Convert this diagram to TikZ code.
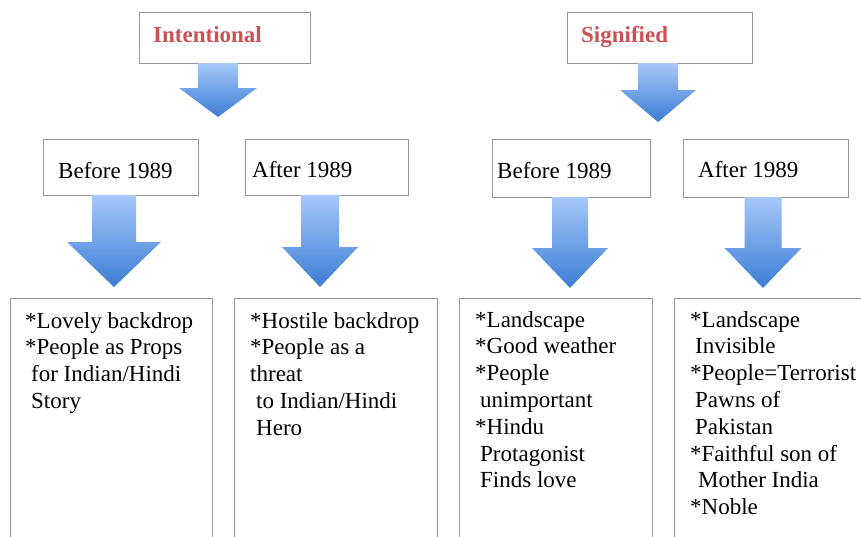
\documentclass[tikz,border=0pt]{standalone}
\usepackage{fontspec}
\setmainfont{Liberation Serif}
\usetikzlibrary{calc}
\definecolor{boxline}{RGB}{150,150,150}
\definecolor{titlered}{RGB}{205,80,85}
\definecolor{arrtop}{RGB}{165,200,250}
\definecolor{arrbot}{RGB}{60,125,212}
\tikzset{
  box/.style={draw=boxline, line width=0.9pt, fill=white},
  title/.style={anchor=base west, inner sep=0pt, text=titlered, font=\fontsize{23}{27}\selectfont\bfseries},
  label/.style={anchor=base west, inner sep=0pt, font=\fontsize{23}{27}\selectfont},
  body/.style={anchor=base west, inner sep=0pt, align=left, font=\fontsize{23}{26.8}\selectfont}
}
\newcommand{\barrow}[6]{%
  \shade[top color=arrtop, bottom color=arrbot]
    ({#1-#5},#2) -- ({#1+#5},#2) -- ({#1+#5},#3) -- ({#1+#6},#3) -- (#1,#4)
    -- ({#1-#6},#3) -- ({#1-#5},#3) -- cycle;}
\begin{document}
\begin{tikzpicture}[x=1pt,y=-1pt]
\useasboundingbox (0,0) rectangle (861,536);
\clip (0,0) rectangle (861,536);
% top boxes
\draw[box] (139,12) rectangle (310,63);
\node[title] (int) at (153,42) {Intentional};
\draw[box] (567,12) rectangle (752,63);
\node[title] (sig) at (581,42) {Signified};
% arrows from top boxes
\barrow{218}{63}{88}{117}{20}{39}
\barrow{658}{63}{90}{122}{20}{38}
% middle boxes
\draw[box] (43,139) rectangle (198,195);
\node[label] (b1) at (58,178) {Before 1989};
\draw[box] (245,139) rectangle (408,195);
\node[label] (a1) at (252,177) {After 1989};
\draw[box] (492,139) rectangle (650,197);
\node[label] (b2) at (497,178) {Before 1989};
\draw[box] (683,139) rectangle (848,197);
\node[label] (a2) at (698,177) {After 1989};
% arrows from middle boxes
\barrow{114}{195}{242}{287}{22}{47}
\barrow{320}{195}{247}{287}{19}{38}
\barrow{570}{197}{248}{288}{18}{38}
\barrow{763}{197}{248}{288}{18.5}{38.5}
% bottom boxes (base anchor = baseline of last line)
\draw[box] (10,298) rectangle (212,560);
\node[body] (t1) at (25,408.4) {*Lovely backdrop\\*People as Props\\\hspace*{6pt}for Indian/Hindi\\\hspace*{6pt}Story};
\draw[box] (234,298) rectangle (437,560);
\node[body] (t2) at (250,435.2) {*Hostile backdrop\\*People as a\\threat\\\hspace*{6pt}to Indian/Hindi\\\hspace*{6pt}Hero};
\draw[box] (459,298) rectangle (652,560);
\node[body] (t3) at (475,487.8) {*Landscape\\*Good weather\\*People\\\hspace*{5pt}unimportant\\*Hindu\\\hspace*{5pt}Protagonist\\\hspace*{5pt}Finds love};
\draw[box] (674,298) rectangle (875,560);
\node[body] (t4) at (690,514.6) {*Landscape\\\hspace*{5pt}Invisible\\*People=Terrorist\\\hspace*{5pt}Pawns of\\\hspace*{5pt}Pakistan\\*Faithful son of\\\hspace*{8pt}Mother India\\*Noble};
\end{tikzpicture}
\end{document}
